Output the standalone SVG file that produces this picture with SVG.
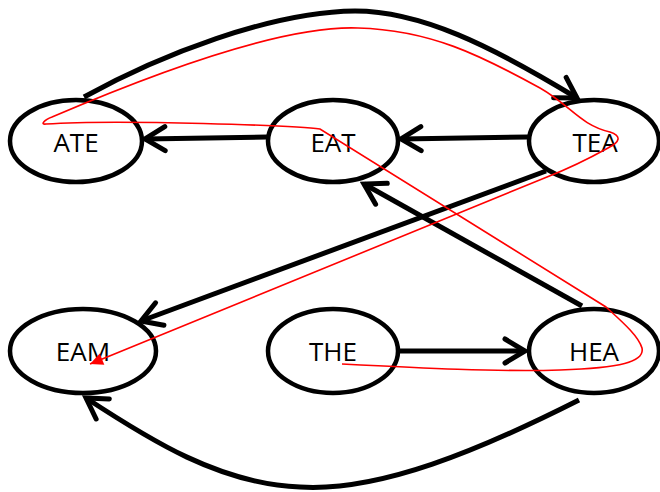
<svg xmlns="http://www.w3.org/2000/svg" width="660" height="492" viewBox="0 0 660 492">
<style>
.node ellipse{fill:#fff;stroke:#000;stroke-width:4.5}
.node text{font-family:"Open Sans","Liberation Sans",sans-serif;font-size:26px;fill:#000;text-anchor:middle}
.edge{fill:none;stroke:#000;stroke-width:5;marker-end:url(#open)}
.trace{fill:none;stroke:#ff0000;stroke-width:1.6;marker-end:url(#solid)}
</style>
<defs>
<marker id="open" markerUnits="userSpaceOnUse" markerWidth="40" markerHeight="40" viewBox="-30 -20 40 40" refX="0" refY="0" orient="auto" overflow="visible">
<path d="M-20,-12 L0,0 L-20,12" fill="none" stroke="#000" stroke-width="5" stroke-linecap="round" stroke-linejoin="miter"/>
</marker>
<marker id="solid" markerUnits="userSpaceOnUse" markerWidth="20" markerHeight="20" viewBox="-15 -10 20 20" refX="0" refY="0" orient="auto" overflow="visible">
<path d="M-13,-6 L0,0 L-13,6 Z" fill="#ff0000"/>
</marker>
</defs>
<g id="connectors">
<path class="edge" d="M84,97 C160,55 270,12 355,11 C420,11 490,45 577,98"/>
<path class="edge" d="M267,137 L145,139"/>
<path class="edge" d="M528,137 L401,139"/>
<path class="edge" d="M546,171 L141,321"/>
<path class="edge" d="M582,306 L364,184"/>
<path class="edge" d="M398,351 L525,351"/>
<path class="edge" d="M579,400 C480,450 380,492 300,487 C220,484 150,440 86,398"/>
</g>
<g id="ATE" class="node"><ellipse cx="76" cy="141" rx="66" ry="41"/><text x="76" y="152">ATE</text></g>
<g id="EAT" class="node"><ellipse cx="333" cy="141" rx="65" ry="41"/><text x="333" y="152">EAT</text></g>
<g id="TEA" class="node"><ellipse cx="594" cy="141" rx="65" ry="41"/><text x="595" y="152">TEA</text></g>
<g id="EAM" class="node"><ellipse cx="83" cy="351" rx="73" ry="42"/><text x="83" y="361">EAM</text></g>
<g id="THE" class="node"><ellipse cx="333" cy="351" rx="65" ry="42"/><text x="333" y="361">THE</text></g>
<g id="HEA" class="node"><ellipse cx="594" cy="351" rx="65" ry="42"/><text x="594" y="361">HEA</text></g>
<g id="trace-path">
<path class="trace" d="M342,364 C420,368 500,372 560,370 C620,368 645,362 642,348 C638,335 620,320 606,307 L320,129 C300,126 120,119 46,124 C40,125 44,120 52,117 C150,75 280,25 358,28 C430,30 480,55 540,88 C570,105 580,125 610,132 C622,136 620,142 608,148 C590,158 570,168 547,177 L90,364"/>
</g>
</svg>
